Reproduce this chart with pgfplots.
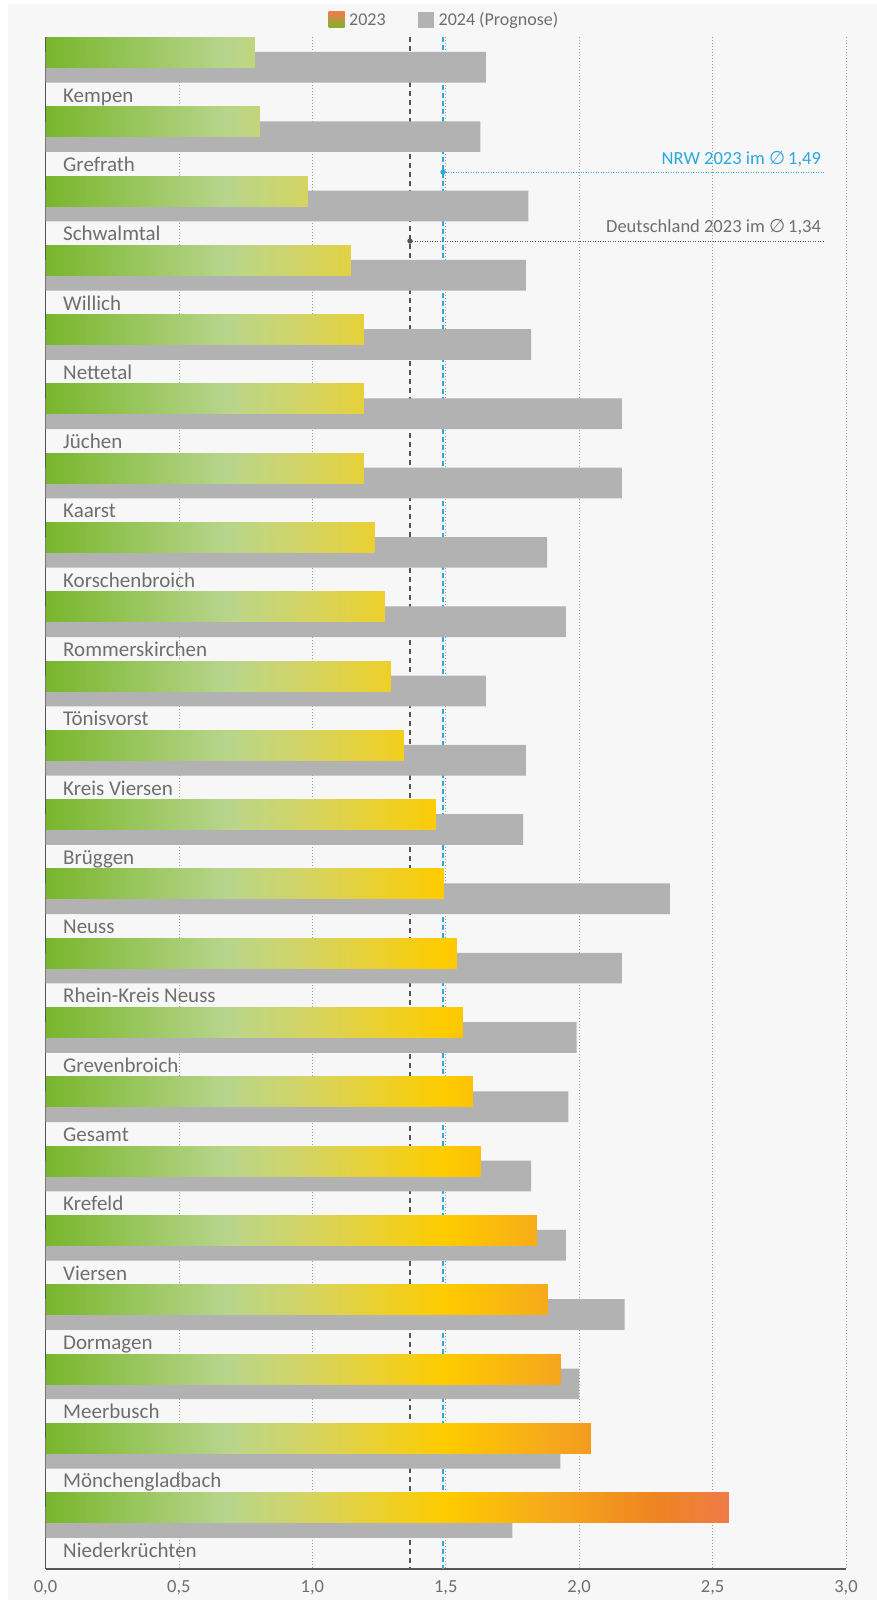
\documentclass[border=0pt]{standalone}
\usepackage{pgfplots}
\pgfplotsset{compat=1.18}
\usepgfplotslibrary{patchplots}
\usepackage{fontspec}
\setmainfont{Carlito}
\newfontfamily\symfont{DejaVu Sans}
\definecolor{panel}{HTML}{F7F7F7}
\definecolor{barGray}{HTML}{B2B2B2}
\definecolor{txt}{HTML}{6E6E6E}
\definecolor{nrw}{HTML}{2AA8DF}
\definecolor{axisc}{HTML}{555555}
\definecolor{gridc}{HTML}{9A9A9A}
\definecolor{cGreen}{HTML}{78B62C}
\definecolor{cYellow}{HTML}{FFCC00}
\definecolor{cOrange}{HTML}{EF7C48}
\begin{document}
\begin{tikzpicture}
\fill[white] (-45.5pt,-31pt) rectangle (831.5pt,1569pt);
\fill[panel] (-37.5pt,-31pt) rectangle (831.5pt,1565pt);
\begin{axis}[
  at={(0pt,0pt)}, anchor=south west,
  scale only axis, width=800.5pt, height=1532pt,
  xmin=0, xmax=3, ymin=0, ymax=22.11, y dir=reverse,
  axis x line*=bottom, axis y line*=left,
  axis line style={draw=axisc, line width=1.2pt, -},
  major tick length=0pt,
  xtick={0,0.5,...,3},
  xmajorgrids,
  grid style={gridc, line width=0.7pt, dash pattern=on 1pt off 2pt},
  /pgf/number format/.cd, use comma, fixed, fixed zerofill, precision=1, assume math mode=true,
  /pgfplots/.cd,
  xticklabel style={font=\fontsize{18.5}{20}\selectfont, text=txt, yshift=-8pt},
  ytick={0.94,1.94,2.94,3.94,4.94,5.94,6.94,7.94,8.94,9.94,10.94,11.94,12.94,13.94,14.94,15.94,16.94,17.94,18.94,19.94,20.94,21.94},
  yticklabels={Kempen,Grefrath,Schwalmtal,Willich,Nettetal,Jüchen,Kaarst,Korschenbroich,Rommerskirchen,Tönisvorst,Kreis Viersen,Brüggen,Neuss,Rhein-Kreis Neuss,Grevenbroich,Gesamt,Krefeld,Viersen,Dormagen,Meerbusch,Mönchengladbach,Niederkrüchten},
  yticklabel style={anchor=base west, inner sep=0pt, xshift=17.5pt, font=\fontsize{21}{24}\selectfont, text=txt},
  colormap={bars}{rgb255(0pt)=(120,182,44) rgb255(68pt)=(184,213,140) rgb255(100pt)=(214,212,95) rgb255(149pt)=(255,204,0) rgb255(190pt)=(246,168,28) rgb255(229pt)=(238,132,34) rgb255(256pt)=(239,124,72)},
  point meta min=0, point meta max=2.56,
  legend style={at={(axis description cs:0.5,1)}, anchor=south, yshift=3pt, draw=none, fill=none,
    legend columns=2, font=\fontsize{18}{20}\selectfont, text=txt,
    nodes={inner sep=4.5pt},
    /tikz/every even column/.append style={column sep=28pt}},
  legend cell align=left,
]
\addlegendimage{legend image code/.code={\shade[draw=none, top color=cOrange, middle color=cYellow, bottom color=cGreen] (0pt,-8pt) rectangle (16pt,8pt);}}
\addlegendentry{2023}
\addlegendimage{legend image code/.code={\fill[draw=none, barGray] (0pt,-8pt) rectangle (16pt,8pt);}}
\addlegendentry{2024 (Prognose)}

% reference lines
\addplot[axisc, line width=1.1pt, dash pattern=on 5pt off 4pt] coordinates {(1.366,0) (1.366,22.11)};
\addplot[nrw, line width=1.5pt, dash pattern=on 5pt off 3pt] coordinates {(1.49,0) (1.49,22.11)};
\addplot[nrw, line width=0.9pt, dash pattern=on 1pt off 1.5pt] coordinates {(1.49,1.948) (2.92,1.948)};
\addplot[axisc, line width=0.9pt, dash pattern=on 1pt off 1.5pt] coordinates {(1.366,2.944) (2.92,2.944)};
\addplot[only marks, mark=*, mark size=2.4pt, nrw] coordinates {(1.49,1.948)};
\addplot[only marks, mark=*, mark size=2.4pt, axisc] coordinates {(1.366,2.944)};

% 2024 (Prognose)
\addplot[xbar, bar width=0.443, bar shift=0pt, fill=barGray, draw=none] table {
x y
1.65 0.438
1.63 1.438
1.81 2.438
1.80 3.438
1.82 4.438
2.16 5.438
2.16 6.438
1.88 7.438
1.95 8.438
1.65 9.438
1.80 10.438
1.79 11.438
2.34 12.438
2.16 13.438
1.99 14.438
1.96 15.438
1.82 16.438
1.95 17.438
2.17 18.438
2.00 19.438
1.93 20.438
1.75 21.438
};

% 2023
\addplot[patch, patch type=rectangle, shader=interp, point meta=x] table {
x y
0 0
0.78 0
0.78 0.433
0 0.433
0 1
0.80 1
0.80 1.433
0 1.433
0 2
0.98 2
0.98 2.433
0 2.433
0 3
1.14 3
1.14 3.433
0 3.433
0 4
1.19 4
1.19 4.433
0 4.433
0 5
1.19 5
1.19 5.433
0 5.433
0 6
1.19 6
1.19 6.433
0 6.433
0 7
1.23 7
1.23 7.433
0 7.433
0 8
1.27 8
1.27 8.433
0 8.433
0 9
1.29 9
1.29 9.433
0 9.433
0 10
1.34 10
1.34 10.433
0 10.433
0 11
1.46 11
1.46 11.433
0 11.433
0 12
1.49 12
1.49 12.433
0 12.433
0 13
1.54 13
1.54 13.433
0 13.433
0 14
1.56 14
1.56 14.433
0 14.433
0 15
1.60 15
1.60 15.433
0 15.433
0 16
1.63 16
1.63 16.433
0 16.433
0 17
1.84 17
1.84 17.433
0 17.433
0 18
1.88 18
1.88 18.433
0 18.433
0 19
1.93 19
1.93 19.433
0 19.433
0 20
2.04 20
2.04 20.433
0 20.433
0 21
2.56 21
2.56 21.433
0 21.433
};

\node[anchor=base east, inner sep=0pt, text=nrw, font=\fontsize{18.5}{20}\selectfont] at (axis cs:2.907,1.847) {NRW 2023 im {\symfont ∅}\,1,49};
\node[anchor=base east, inner sep=0pt, text=txt, font=\fontsize{18.5}{20}\selectfont] at (axis cs:2.907,2.828) {Deutschland 2023 im {\symfont ∅}\,1,34};
\end{axis}
\end{tikzpicture}
\end{document}
